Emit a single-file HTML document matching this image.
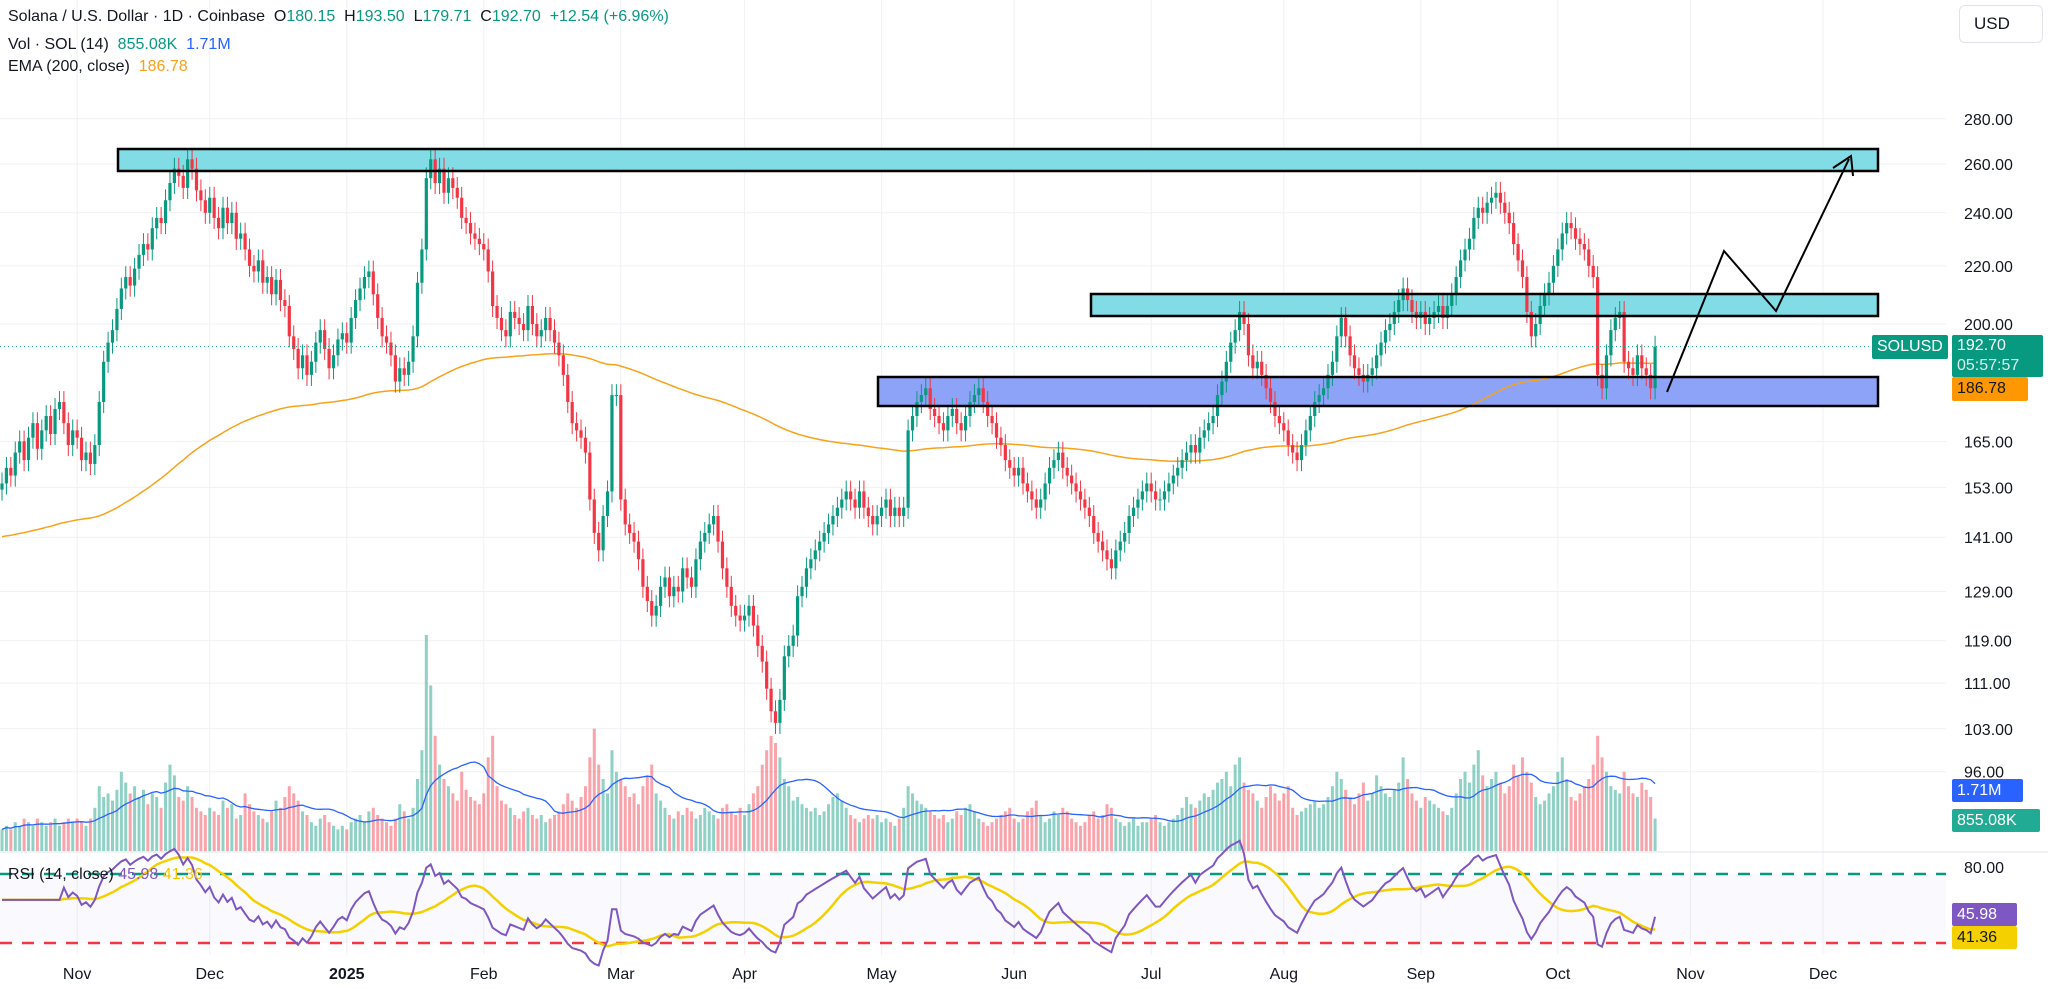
<!DOCTYPE html>
<html><head><meta charset="utf-8">
<style>
html,body{margin:0;padding:0;background:#fff;}
body{width:2048px;height:989px;overflow:hidden;position:relative;font-family:"Liberation Sans",sans-serif;}
.hdr{position:absolute;left:8px;font-size:16px;color:#131722;white-space:nowrap;}
.g{color:#089981}
.box{position:absolute;font-size:16px;color:#fff;padding:0 5px;box-sizing:border-box;line-height:23px;border-radius:2px;}
</style></head>
<body>
<svg id="chart" width="2048" height="989" style="position:absolute;left:0;top:0"></svg>

<div class="hdr" style="top:8px">Solana / U.S. Dollar · 1D · Coinbase&nbsp; O<span class="g">180.15</span>&nbsp; H<span class="g">193.50</span>&nbsp; L<span class="g">179.71</span>&nbsp; C<span class="g">192.70</span>&nbsp; <span class="g">+12.54 (+6.96%)</span></div>
<div class="hdr" style="top:36px">Vol · SOL (14)&nbsp; <span class="g">855.08K</span>&nbsp; <span style="color:#2962ff">1.71M</span></div>
<div class="hdr" style="top:58px">EMA (200, close)&nbsp; <span style="color:#f7a21b">186.78</span></div>
<div class="hdr" style="top:866px;font-size:16px">RSI (14, close) <span style="color:#7e57c2">45.98</span> <span style="color:#f5c400">41.36</span></div>

<div style="position:absolute;left:1959px;top:5px;width:84px;height:38px;border:1px solid #e0e3eb;border-radius:6px;box-sizing:border-box;font-size:17px;line-height:36px;padding-left:14px;color:#131722">USD</div>

<div class="box" style="left:1872px;top:335px;width:76px;height:24px;background:#089981">SOLUSD</div>
<div class="box" style="left:1952px;top:335px;width:91px;height:42px;background:#089981;line-height:20px;padding-top:1px">192.70<br><span style="opacity:.85">05:57:57</span></div>
<div class="box" style="left:1952px;top:377px;width:76px;height:24px;background:#ff9800;color:#131722">186.78</div>
<div class="box" style="left:1952px;top:779px;width:71px;height:23px;background:#2962ff">1.71M</div>
<div class="box" style="left:1952px;top:809px;width:88px;height:23px;background:#22ab94">855.08K</div>
<div class="box" style="left:1952px;top:903px;width:65px;height:23px;background:#7e57c2">45.98</div>
<div class="box" style="left:1952px;top:926px;width:65px;height:23px;background:#f5d000;color:#131722">41.36</div>

<script>
const closes = [
154,158,156,162,165,160,166,170,163,168,172,167,174,176,170,164,168,
166,160,162,159,164,176,188,194,198,205,212,216,213,219,224,228,226,234,238,236,245,252,258,255,250,262,258,249,245,240,
246,238,234,242,236,240,230,232,226,220,218,222,214,216,210,215,208,206,196,192,186,190,184,188,194,198,192,186,190,195,197,
194,202,208,212,216,218,210,202,196,194,190,182,186,184,188,196,214,226,254,262,252,258,248,254,250,246,238,236,232,230,228,
226,218,206,202,198,196,204,202,200,198,206,200,196,198,202,198,194,190,184,176,170,168,166,162,150,142,138,146,
152,178,178,150,144,142,140,136,130,127,124,126,130,132,128,130,129,134,132,130,136,140,142,144,146,140,134,130,126,124,123,
124,126,122,118,115,110,106,104,108,116,118,120,128,130,134,136,138,140,142,144,146,148,150,152,150,148,152,148,146,144,
146,148,150,146,148,146,148,168,172,176,178,180,174,172,170,168,172,174,170,168,172,176,178,180,176,172,170,166,164,160,158,
156,158,154,152,150,148,150,154,158,160,162,158,156,154,152,150,148,146,142,140,138,136,134,138,140,142,146,148,150,152,
154,152,150,150,152,154,156,158,160,162,164,162,166,168,170,172,178,182,188,194,198,204,200,190,186,188,184,180,176,172,170,
168,164,162,160,164,168,172,176,178,180,184,188,196,202,196,190,186,184,182,184,186,190,194,198,200,204,208,212,208,204,202,
204,200,202,204,206,202,206,210,216,222,226,230,238,242,240,244,246,248,244,240,236,228,222,216,204,196,200,206,210,214,
220,226,232,236,234,230,228,226,220,216,184,180,190,198,202,204,188,186,184,190,186,184,180,192.7];
const volumes = [
.6,.7,.6,.8,.7,.9,.8,.7,.9,.8,.7,.8,.9,.7,.8,.9,.8,
.9,.8,.7,.9,1.2,1.8,1.5,1.6,1.4,1.7,2.2,1.9,1.6,1.8,1.5,1.7,1.3,1.6,1.5,1.2,1.9,2.4,2.1,1.5,1.4,1.8,1.5,1.2,1.1,1.0,
1.2,1.1,1.0,1.4,1.2,1.3,.9,1.0,1.6,1.3,1.1,1.0,.9,.8,1.1,1.4,1.2,1.5,1.8,1.6,1.4,1.1,1.0,.8,.7,.9,1.0,.8,.7,.6,.7,
.6,.8,.9,1.0,.8,1.1,1.2,1.0,.9,.8,.7,.9,1.3,1.1,.9,1.2,2.0,2.8,6.0,4.6,3.2,2.4,2.0,1.8,1.6,1.4,2.2,1.7,1.5,1.4,1.3,
1.6,2.6,3.2,1.8,1.4,1.3,1.2,1.0,.9,1.1,1.2,1.0,.9,1.0,.8,.9,1.0,1.1,1.3,1.6,1.4,1.2,1.5,1.8,2.6,3.4,2.4,2.0,
1.6,2.8,2.2,2.0,1.8,1.5,1.6,1.3,1.8,2.1,2.4,1.6,1.4,1.2,1.0,.9,1.1,1.0,1.2,1.1,.9,1.0,1.2,1.1,1.0,.9,1.2,1.3,1.1,1.0,1.2,
1.0,1.3,1.6,1.8,2.4,2.8,3.2,3.0,2.6,2.0,1.8,1.4,1.5,1.3,1.2,1.1,1.2,1.0,1.1,1.3,1.5,1.6,1.4,1.2,1.0,.9,.8,.9,1.0,.9,
1.0,.8,.9,.8,.7,.9,1.2,1.8,1.6,1.4,1.3,1.2,1.1,1.0,.9,1.0,.8,.9,1.1,1.0,1.2,1.3,1.1,.9,.8,.7,.8,.9,1.0,1.1,1.2,
.9,.8,.9,1.1,1.2,1.4,1.0,.8,.9,1.1,1.0,1.2,1.1,.9,.8,.7,.8,1.0,1.1,.9,1.0,1.3,1.2,.9,.8,.7,.8,.9,.7,.8,
.8,.9,1.0,.8,.7,.8,.9,1.0,1.2,1.5,1.3,1.2,1.4,1.6,1.5,1.7,1.9,2.0,2.2,1.8,2.4,2.6,1.9,1.7,1.6,1.4,1.2,1.5,1.8,1.6,1.4,
1.6,1.8,1.2,1.0,1.1,1.2,1.3,1.4,1.2,1.3,1.5,1.8,2.2,2.0,1.7,1.5,1.3,1.6,1.9,1.4,1.6,2.1,1.8,1.6,1.5,1.7,1.9,2.6,2.0,1.6,1.4,
1.2,1.5,1.4,1.3,1.2,1.1,1.0,1.2,1.6,2.0,2.2,1.9,2.4,2.8,2.1,1.8,2.0,2.2,1.9,1.6,1.8,2.4,2.1,2.6,2.2,1.9,1.5,1.3,1.4,1.6,
1.8,2.2,2.6,2.0,1.5,1.4,1.6,1.8,2.0,2.4,3.2,2.6,2.2,1.8,1.7,1.6,2.2,1.8,1.6,1.5,1.9,1.7,1.5,.9];
const priceTicks = [280,260,240,220,200,165,153,141,129,119,111,103,96];
const monthLabels = ["Nov","Dec","2025","Feb","Mar","Apr","May","Jun","Jul","Aug","Sep","Oct","Nov","Dec"];
const monthDayIndex = [17,47,78,109,140,168,199,229,260,290,321,352,382,412];
const emaSeed = 141;

const NS="http://www.w3.org/2000/svg";
const svg=document.getElementById('chart');
const PLOT_R=1946, X0=2, PX=4.42;
const xOf=i=>X0+i*PX;
const yP=p=>324-610*Math.log(p/200);
const VOL_BASE=851, VOL_K=36;
const yV=v=>VOL_BASE-v*VOL_K;
const yR=r=>874+(70-r)*1.725;
function mk(tag,attrs){const e=document.createElementNS(NS,tag);for(const k in attrs)e.setAttribute(k,attrs[k]);svg.appendChild(e);return e;}

// grid
priceTicks.forEach(p=>{
  const l=mk('line',{x1:0,x2:PLOT_R,y1:yP(p),y2:yP(p),stroke:'#f0f1f4','stroke-width':1});
  
  
  const t=mk('text',{x:1964,y:yP(p)+6,'font-size':16,fill:'#131722','font-family':'Liberation Sans, sans-serif'});
  t.textContent=p.toFixed(2);
  
  
});
monthDayIndex.forEach((d,k)=>{
  const l=mk('line',{x1:xOf(d),x2:xOf(d),y1:0,y2:955,stroke:'#f0f1f4','stroke-width':1});
  
  
  const t=mk('text',{x:xOf(d),y:979,'font-size':16,fill:'#131722','text-anchor':'middle','font-weight':monthLabels[k]==='2025'?'bold':'normal','font-family':'Liberation Sans, sans-serif'});
  t.textContent=monthLabels[k];
  
  
});
{const l=mk('line',{x1:0,x2:2048,y1:852,y2:852,stroke:'#e0e3eb','stroke-width':1});
}
{const r=mk('rect',{x:0,y:874,width:PLOT_R,height:69,fill:'#7e57c2','fill-opacity':0.035});
}
{const t=mk('text',{x:1964,y:873,'font-size':16,fill:'#131722','font-family':'Liberation Sans, sans-serif'});t.textContent='80.00';
}

// zone fills (behind candles)
const zones=[[118,149,1760,22,'#81dce6','resistance-zone-260'],[1091,294,787,22,'#81dce6','resistance-zone-205'],[878,377,1000,29,'#8da3f8','support-zone-180']];
zones.forEach(z=>{
  const r=mk('rect',{x:z[0],y:z[1],width:z[2],height:z[3],fill:z[4]});
  
  
});

// volume bars
volumes.forEach((v,i)=>{
  const up=i===0||closes[i]>=closes[i-1];
  const r=mk('rect',{x:xOf(i)-1.5,y:yV(v),width:3,height:v*VOL_K,fill:up?'rgba(8,153,129,0.45)':'rgba(242,54,69,0.45)'});
  
  
});
let vpts=[];
volumes.forEach((v,i)=>{const s=volumes.slice(Math.max(0,i-13),i+1);const m=s.reduce((a,b)=>a+b,0)/s.length;vpts.push(xOf(i).toFixed(1)+','+yV(m).toFixed(1));});
{const p=mk('polyline',{points:vpts.join(' '),fill:'none',stroke:'#2962ff','stroke-width':1.3});
}

// EMA 200
let ema=emaSeed, epts=[];
closes.forEach((c,i)=>{ema=ema+(c-ema)*2/201;epts.push(xOf(i).toFixed(1)+','+yP(ema).toFixed(1));});
{const p=mk('polyline',{points:epts.join(' '),fill:'none',stroke:'#f7a21b','stroke-width':1.5});
}

// candles
closes.forEach((c,i)=>{
  const o=i===0?c*0.99:closes[i-1];
  const up=c>=o;
  const hi=Math.max(o,c)*1.018, lo=Math.min(o,c)*0.982;
  const col=up?'#089981':'#f23645';
  const w=mk('line',{x1:xOf(i),x2:xOf(i),y1:yP(hi),y2:yP(lo),stroke:col,'stroke-width':1});
  
  
  const yt=yP(Math.max(o,c)), yb=yP(Math.min(o,c));
  const b=mk('rect',{x:xOf(i)-1.6,y:yt,width:3.2,height:Math.max(1,yb-yt),fill:col});
  
  
});

// last price line
{const l=mk('line',{x1:0,x2:1872,y1:yP(192.7),y2:yP(192.7),stroke:'#089981','stroke-width':1,'stroke-dasharray':'1 3'});
}

// zone borders
zones.forEach(z=>{
  const r=mk('rect',{x:z[0],y:z[1],width:z[2],height:z[3],fill:'none',stroke:'#000','stroke-width':2.5});
  
  
});
// projection arrow
{const p=mk('polyline',{points:'1667,392 1724,251 1776,311 1849,159',fill:'none',stroke:'#000','stroke-width':2});

const h=mk('polyline',{points:'1833,168 1851,156 1853,176',fill:'none',stroke:'#000','stroke-width':2});
}

// RSI
{const l1=mk('line',{x1:0,x2:PLOT_R,y1:874,y2:874,stroke:'#089981','stroke-width':2.5,'stroke-dasharray':'12 10'});

const l2=mk('line',{x1:0,x2:PLOT_R,y1:943,y2:943,stroke:'#f23645','stroke-width':2.5,'stroke-dasharray':'12 10'});
}
let ag=0,al=0,rsi=[];
closes.forEach((c,i)=>{
  if(i===0){rsi.push(55);return;}
  const d=c-closes[i-1],g=Math.max(d,0),l=Math.max(-d,0);
  if(i<=14){ag+=g/14;al+=l/14;}else{ag=(ag*13+g)/14;al=(al*13+l)/14;}
  const rs=al===0?100:100-100/(1+ag/al);rsi.push(i<14?55:rs);
});
let rp=[],rmp=[];
rsi.forEach((r,i)=>{rp.push(xOf(i).toFixed(1)+','+yR(r).toFixed(1));const s=rsi.slice(Math.max(0,i-13),i+1);rmp.push(xOf(i).toFixed(1)+','+yR(s.reduce((a,b)=>a+b,0)/s.length).toFixed(1));});
{const p=mk('polyline',{points:rmp.join(' '),fill:'none',stroke:'#f5d000','stroke-width':2.5});

const q=mk('polyline',{points:rp.join(' '),fill:'none',stroke:'#7e57c2','stroke-width':2});
}
</script>
</body></html>
